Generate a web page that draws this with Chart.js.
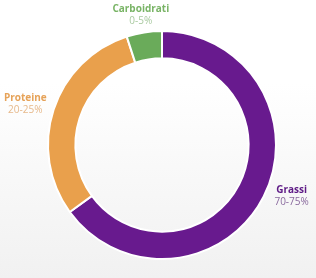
<!DOCTYPE html>
<html>
<head>
<meta charset="utf-8">
<script src="https://cdn.jsdelivr.net/npm/chart.js@4/dist/chart.umd.min.js"></script>
<style>
  html, body { margin: 0; padding: 0; }
  body { width: 316px; height: 278px; background: linear-gradient(#ffffff 0%, #ffffff 30%, #f1f1f1 100%); }
  #wrap { width: 316px; height: 278px; }
</style>
</head>
<body>
<div id="wrap"><canvas id="myChart"></canvas></div>
<script>
// slice order: starts at top, clockwise
const categories = ['Grassi', 'Proteine', 'Carboidrati'];
const values = [65, 30, 5];
const rangeLabels = ['70-75%', '20-25%', '0-5%'];
const sliceColors = ['#681a8e', '#e9a04c', '#6aab5a'];
const titleColors = ['#5e1a86', '#e6a258', '#79b466'];
const rangeColors = ['#8a6a9e', '#e7b98b', '#a9caa0'];
// small hand nudges for the label blocks (px)
const labelNudge = [[6, -12], [0, 4], [0, 4]];

const outsideLabels = {
  id: 'outsideLabels',
  afterDraw(chart) {
    const ctx = chart.ctx;
    const arcs = chart.getDatasetMeta(0).data;
    arcs.forEach((arc, i) => {
      const mid = (arc.startAngle + arc.endAngle) / 2;
      ctx.save();
      ctx.font = 'bold 10px "Open Sans", sans-serif';
      const hw = ctx.measureText(categories[i]).width / 2;
      const r = arc.outerRadius + 6 + Math.abs(Math.cos(mid)) * hw + Math.abs(Math.sin(mid)) * 11;
      const x = arc.x + Math.cos(mid) * r + labelNudge[i][0];
      const y = arc.y + Math.sin(mid) * r + labelNudge[i][1];
      ctx.textAlign = 'center';
      ctx.textBaseline = 'middle';
      ctx.fillStyle = titleColors[i];
      ctx.fillText(categories[i], x, y - 6);
      ctx.font = '10px "Open Sans", sans-serif';
      ctx.fillStyle = rangeColors[i];
      ctx.fillText(rangeLabels[i], x, y + 6);
      ctx.restore();
    });
  }
};

new Chart(document.getElementById('myChart').getContext('2d'), {
  type: 'doughnut',
  data: {
    labels: categories,
    datasets: [{
      data: values,
      backgroundColor: sliceColors,
      borderColor: '#ffffff',
      borderWidth: 2
    }]
  },
  options: {
    responsive: true,
    maintainAspectRatio: false,
    animation: false,
    cutout: '76%',
    layout: { padding: { top: 30, bottom: 18, left: 47, right: 39 } },
    plugins: {
      legend: { display: false },
      tooltip: { enabled: false }
    }
  },
  plugins: [outsideLabels]
});
</script>
</body>
</html>
